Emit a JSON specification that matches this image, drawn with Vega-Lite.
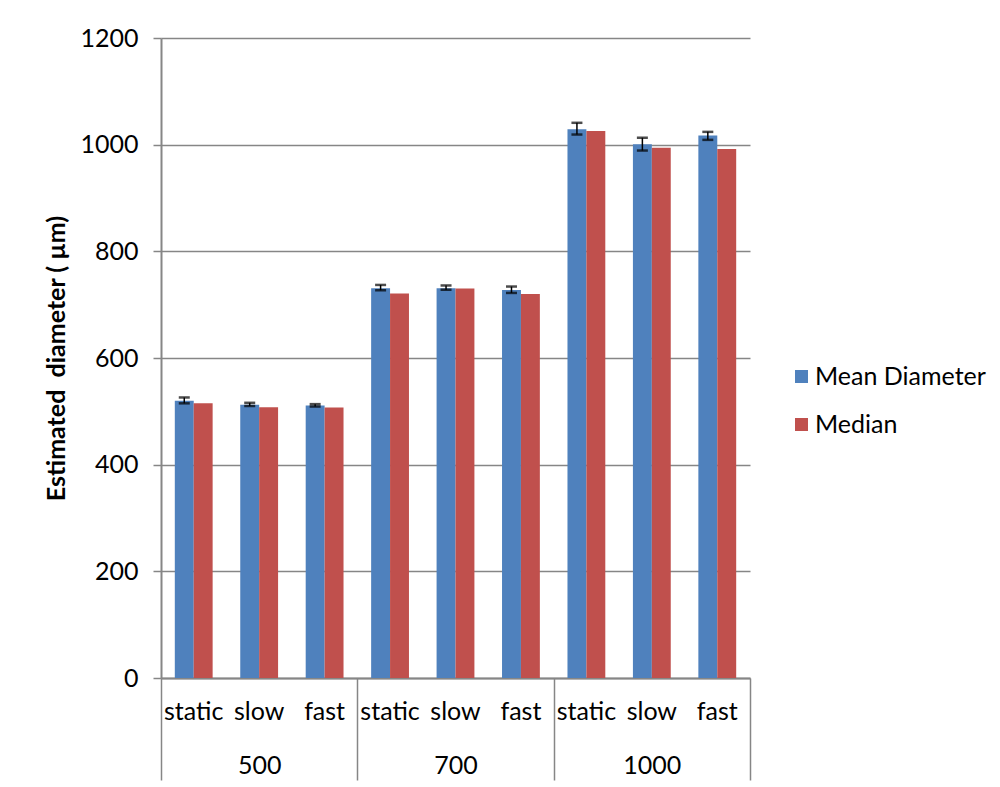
{
  "$schema": "https://vega.github.io/schema/vega-lite/v6.json",
  "width": 589,
  "height": 640,
  "autosize": {"type": "none"},
  "padding": {"left": 161, "top": 38, "right": 250, "bottom": 109},
  "background": "white",
  "config": {
    "view": {"stroke": null},
    "font": "Lato",
    "axis": {"labelColor": "black", "labelFont": "Lato", "titleColor": "black", "titleFont": "Lato"},
    "legend": {"labelFont": "Lato", "labelColor": "black"}
  },
  "data": {
    "values": [
      {"size": "500", "cond": "static", "key": "500 static", "series": "Mean Diameter", "value": 520, "lo": 515, "hi": 526},
      {"size": "500", "cond": "static", "key": "500 static", "series": "Median", "value": 515},
      {"size": "500", "cond": "slow", "key": "500 slow", "series": "Mean Diameter", "value": 512.5, "lo": 510, "hi": 516},
      {"size": "500", "cond": "slow", "key": "500 slow", "series": "Median", "value": 507.5},
      {"size": "500", "cond": "fast", "key": "500 fast", "series": "Mean Diameter", "value": 511, "lo": 509, "hi": 513.5},
      {"size": "500", "cond": "fast", "key": "500 fast", "series": "Median", "value": 507},
      {"size": "700", "cond": "static", "key": "700 static", "series": "Mean Diameter", "value": 731, "lo": 727, "hi": 737},
      {"size": "700", "cond": "static", "key": "700 static", "series": "Median", "value": 721},
      {"size": "700", "cond": "slow", "key": "700 slow", "series": "Mean Diameter", "value": 731, "lo": 728, "hi": 736},
      {"size": "700", "cond": "slow", "key": "700 slow", "series": "Median", "value": 730.5},
      {"size": "700", "cond": "fast", "key": "700 fast", "series": "Mean Diameter", "value": 727.5, "lo": 722, "hi": 734},
      {"size": "700", "cond": "fast", "key": "700 fast", "series": "Median", "value": 720},
      {"size": "1000", "cond": "static", "key": "1000 static", "series": "Mean Diameter", "value": 1029, "lo": 1019, "hi": 1041},
      {"size": "1000", "cond": "static", "key": "1000 static", "series": "Median", "value": 1025.5},
      {"size": "1000", "cond": "slow", "key": "1000 slow", "series": "Mean Diameter", "value": 1001, "lo": 989, "hi": 1013},
      {"size": "1000", "cond": "slow", "key": "1000 slow", "series": "Median", "value": 994},
      {"size": "1000", "cond": "fast", "key": "1000 fast", "series": "Mean Diameter", "value": 1017, "lo": 1009, "hi": 1024},
      {"size": "1000", "cond": "fast", "key": "1000 fast", "series": "Median", "value": 992}
    ]
  },
  "layer": [
    {
      "layer": [
        {
          "mark": {"type": "bar"},
          "encoding": {
            "x": {
              "field": "key", "type": "nominal",
              "sort": ["500 static", "500 slow", "500 fast", "700 static", "700 slow", "700 fast", "1000 static", "1000 slow", "1000 fast"],
              "scale": {"paddingInner": 0, "paddingOuter": 0},
              "axis": {"title": null, "labelExpr": "split(datum.value, ' ')[1]", "ticks": false, "labelPadding": 21, "labelFontSize": 25, "labelAngle": 0, "domainColor": "#868686", "domainWidth": 2, "grid": false}
            },
            "xOffset": {"field": "series", "type": "nominal", "scale": {"domain": ["Mean Diameter", "Median"], "paddingOuter": 0.73, "paddingInner": 0}},
            "y": {
              "field": "value", "type": "quantitative",
              "scale": {"domain": [0, 1200]},
              "axis": {"title": "Estimated\u00a0 diameter ( µm)", "format": "d", "titleFontSize": 25, "titleFontWeight": "bold", "titlePadding": 10, "labelFontSize": 25, "labelPadding": 15, "tickSize": 8, "tickColor": "#868686", "tickWidth": 1.5, "domainColor": "#868686", "domainWidth": 2, "gridColor": "#868686", "gridWidth": 1.5, "values": [0, 200, 400, 600, 800, 1000, 1200]}
            },
            "color": {
              "field": "series", "type": "nominal",
              "scale": {"domain": ["Mean Diameter", "Median"], "range": ["#4F81BD", "#C0504D"]},
              "legend": {"title": null, "orient": "none", "legendX": 628, "legendY": 326, "symbolType": "square", "symbolSize": 169, "labelFontSize": 25, "labelLimit": 400, "rowPadding": 22, "labelOffset": 1, "symbolStrokeWidth": 0}
            }
          }
        },
        {
          "transform": [{"filter": "datum.series == 'Mean Diameter'"}],
          "mark": {"type": "rule", "color": "black", "strokeWidth": 1.5},
          "encoding": {
            "x": {"field": "key", "type": "nominal", "sort": ["500 static", "500 slow", "500 fast", "700 static", "700 slow", "700 fast", "1000 static", "1000 slow", "1000 fast"]},
            "xOffset": {"field": "series", "type": "nominal"},
            "y": {"field": "lo", "type": "quantitative"},
            "y2": {"field": "hi"}
          }
        },
        {
          "transform": [{"filter": "datum.series == 'Mean Diameter'"}],
          "mark": {"type": "tick", "orient": "horizontal", "color": "black", "thickness": 2.5, "size": 11},
          "encoding": {
            "x": {"field": "key", "type": "nominal", "sort": ["500 static", "500 slow", "500 fast", "700 static", "700 slow", "700 fast", "1000 static", "1000 slow", "1000 fast"]},
            "xOffset": {"field": "series", "type": "nominal"},
            "y": {"field": "lo", "type": "quantitative"}
          }
        },
        {
          "transform": [{"filter": "datum.series == 'Mean Diameter'"}],
          "mark": {"type": "tick", "orient": "horizontal", "color": "black", "thickness": 2.5, "size": 11},
          "encoding": {
            "x": {"field": "key", "type": "nominal", "sort": ["500 static", "500 slow", "500 fast", "700 static", "700 slow", "700 fast", "1000 static", "1000 slow", "1000 fast"]},
            "xOffset": {"field": "series", "type": "nominal"},
            "y": {"field": "hi", "type": "quantitative"}
          }
        }
      ]
    },
    {
      "mark": {"type": "bar", "opacity": 0},
      "encoding": {
        "x": {
          "field": "size", "type": "nominal",
          "sort": ["500", "700", "1000"],
          "scale": {"paddingInner": 0, "paddingOuter": 0},
          "axis": {"orient": "bottom", "title": null, "domain": false, "ticks": true, "tickBand": "extent", "tickSize": 102, "tickColor": "#868686", "tickWidth": 1.5, "labelPadding": -27, "labelFontSize": 25, "labelAngle": 0, "grid": false}
        }
      }
    }
  ],
  "resolve": {"scale": {"x": "independent"}, "axis": {"x": "independent"}}
}
